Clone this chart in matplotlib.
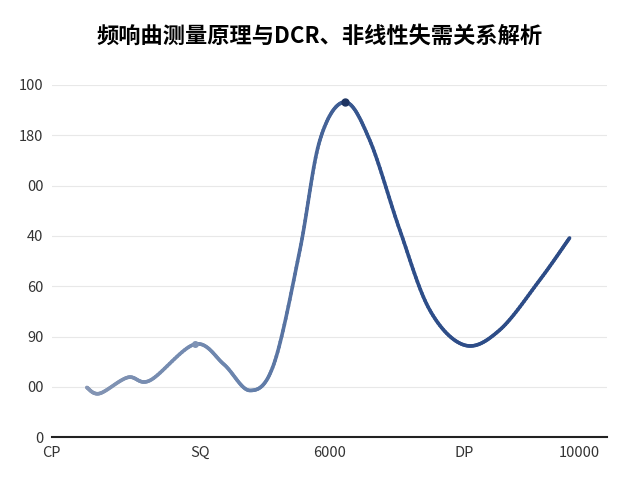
import numpy as np
import matplotlib
matplotlib.use("Agg")
import matplotlib.pyplot as plt
from matplotlib.collections import LineCollection
from matplotlib.colors import LinearSegmentedColormap

plt.rcParams['font.family'] = ['Noto Sans CJK SC', 'DejaVu Sans']

x_vals = [6.3, 8.6, 13.7, 17.7, 25.8, 31.0, 35.7, 40.0, 44.7, 48.3, 52.8, 57.3, 62.7, 68.1, 74.4, 80.7, 87.9, 93.3]
y_vals = [0.99, 0.87, 1.19, 1.13, 1.85, 1.45, 0.93, 1.45, 3.72, 5.9, 6.66, 5.9, 4.12, 2.53, 1.83, 2.13, 3.12, 3.96]
x_ticks = [0, 26.7, 50, 74.4, 95]
x_labels = ['CP', 'SQ', '6000', 'DP', '10000']
y_ticks = [0, 1, 2, 3, 4, 5, 6, 7]
y_labels = ['0', '00', '90', '60', '40', '00', '180', '100']

def catmull(xs, ys, n=20):
    P = np.column_stack([xs, ys])
    P = np.vstack([P[0], P, P[-1]])
    out = []
    for i in range(1, len(P) - 2):
        p0, p1, p2, p3 = P[i-1], P[i], P[i+1], P[i+2]
        t = np.linspace(0, 1, n, endpoint=False)[:, None]
        out.append(0.5 * ((2*p1) + (-p0+p2)*t + (2*p0-5*p1+4*p2-p3)*t**2 + (-p0+3*p1-3*p2+p3)*t**3))
    out.append(P[-2][None, :])
    return np.vstack(out)

fig = plt.figure(figsize=(6.4, 4.8), dpi=100)
ax = fig.add_axes([0.081, 0.089, 0.867, 0.734])
c = catmull(x_vals, y_vals)
segs = np.stack([c[:-1], c[1:]], axis=1)
cmap = LinearSegmentedColormap.from_list('g', ['#8797b5', '#6a84ad', '#2f4f8a', '#2c4b86'])
lc = LineCollection(segs, cmap=cmap, linewidth=2.6, capstyle='round')
lc.set_array(np.linspace(0, 1, len(segs)))
ax.add_collection(lc)
ax.plot([x_vals[10]], [y_vals[10]], 'o', color='#1f3563', ms=5)
ax.plot([x_vals[4]], [y_vals[4]], 'o', color='#7f93b5', ms=4)

ax.set_xlim(0, 100)
ax.set_ylim(0, 7)
ax.set_xticks(x_ticks)
ax.set_xticklabels(x_labels)
ax.set_yticks(y_ticks)
ax.set_yticklabels(y_labels)
ax.tick_params(length=0, labelsize=10.5, colors='#333333', pad=6)
ax.grid(axis='y', color='#e8e8e8', lw=0.8)
ax.set_axisbelow(True)
for s in ['top', 'right', 'left']:
    ax.spines[s].set_visible(False)
ax.spines['bottom'].set_color('#222222')
ax.spines['bottom'].set_linewidth(1.5)
fig.text(0.5, 0.925, '频响曲测量原理与DCR、非线性失需关系解析', ha='center', va='center',
         fontsize=16, fontweight='bold')
fig.savefig('out.png', dpi=100)
